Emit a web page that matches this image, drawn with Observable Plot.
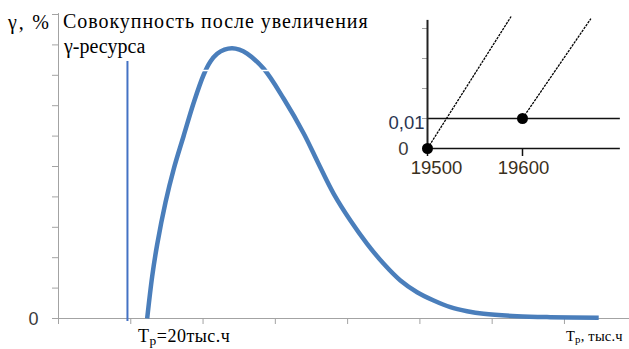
<!DOCTYPE html>
<html>
<head>
<meta charset="utf-8">
<script src="https://cdn.jsdelivr.net/npm/d3@7"></script>
<script src="https://cdn.jsdelivr.net/npm/@observablehq/plot@0.6"></script>
<style>
  html, body { margin: 0; padding: 0; background: #fff; }
  #wrap { position: relative; width: 629px; height: 349px; overflow: hidden; }
  #wrap svg { position: absolute; }
  .lbl { position: absolute; color: #000; white-space: nowrap; line-height: 1; }
  .lbl sub { font-size: 0.75em; vertical-align: -0.2em; line-height: 0; }
</style>
</head>
<body>
<div id="wrap"></div>
<script>
// ---- main chart data (x: thousand hours, y: %) ----
const xTicks = [15, 20, 25, 30, 35, 40, 45, 50];
const yTicks = [0, 1, 2, 3, 4, 5, 6, 7, 8, 9, 10];
const yTickLabels = ["0"];
const curveX = [21.134, 21.480, 21.826, 22.400, 22.974, 23.665, 24.357, 25.048, 25.512, 25.975, 26.48, 27.006, 27.51, 28.05, 29.198, 30.581, 31.964, 32.98, 34.039, 35.194, 36.349, 37.497, 38.651, 39.806, 40.955, 42.109, 43.264, 44.412, 46.72, 49.02, 52.37];
const curveY = [0, 1.382, 2.434, 3.816, 4.924, 6.020, 7.105, 8.026, 8.454, 8.707, 8.845, 8.891, 8.845, 8.71, 8.214, 7.227, 6.086, 5.099, 4.102, 3.224, 2.457, 1.799, 1.25, 0.865, 0.592, 0.372, 0.240, 0.155, 0.076, 0.043, 0.023];
const resourceX = [19.77];
const resourceY = [-0.1, 8.45];
const gapY = [8.16];
const gapX = [22.5, 31];

// ---- inset data ----
const insetXTicks = [19500, 19600];
const insetYTicks = [0.01, 0.02, 0.03, 0.04];
const insetLevels = [0, 0.01];
const insetPointX = [19500, 19600];
const insetPointY = [0, 0.01];
const insetLineEndX = [19588, 19672];
const insetLineEndY = [0.044, 0.0433];
const insetYLabels = ["0", "0,01"];
const insetXLabels = ["19500", "19600"];

const curve = curveX.map((x, i) => ({x, y: curveY[i]}));
const gray = "#a3a3a3";
const sans = "'Liberation Sans', Arial, sans-serif";
const serif = "'Liberation Serif', 'DejaVu Serif', 'Times New Roman', serif";

const main = Plot.plot({
  width: 629, height: 349,
  marginLeft: 58, marginRight: 0, marginTop: 14, marginBottom: 31,
  x: {domain: [15, 54.5]},
  y: {domain: [0, 10]},
  style: {background: "transparent"},
  marks: [
    Plot.ruleX([15], {y1: 0, y2: 10.03, stroke: gray}),
    Plot.ruleY([0], {x1: 15 - 6 / 14.46, x2: 54.5, stroke: gray}),
    Plot.axisX({ticks: xTicks, tickSize: 6, tickFormat: () => "", stroke: gray, label: null}),
    Plot.axisY({ticks: yTicks, tickSize: 6, tickFormat: () => "", stroke: gray, label: null}),
    Plot.text(yTickLabels, {x: 15, y: d => +d, text: d => d, textAnchor: "end", dx: -20, dy: 1,
      fontSize: 18, fontFamily: sans, fill: "#3a3a3a"}),
    Plot.line(curve, {x: "x", y: "y", stroke: "#4a7ebb", strokeWidth: 4.5, curve: "catmull-rom", strokeLinecap: "butt"}),
    Plot.ruleY(gapY, {x1: gapX[0], x2: gapX[1], stroke: "#fff", strokeWidth: 1.5}),
    Plot.ruleX(resourceX, {y1: resourceY[0], y2: resourceY[1], stroke: "#4472c4", strokeWidth: 2})
  ]
});
main.style.left = "0px"; main.style.top = "0px";

const inset = Plot.plot({
  width: 249, height: 185,
  marginLeft: 47, marginRight: 0, marginTop: 13, marginBottom: 37,
  x: {domain: [19500, 19500 + 202 / 0.95]},
  y: {domain: [0, 0.045]},
  style: {background: "transparent"},
  marks: [
    Plot.axisY({ticks: insetYTicks, tickSize: 5, tickFormat: () => "", stroke: gray, label: null}),
    Plot.ruleY(insetLevels, {x1: 19500, x2: 19703, stroke: "#111", strokeWidth: 1.6}),
    Plot.ruleX([insetPointX[0]], {y1: 0, y2: 0.0427, stroke: "#222", strokeWidth: 2}),
    Plot.axisX({ticks: insetXTicks, tickSize: 8, tickFormat: () => "", stroke: "#111", strokeWidth: 1.5, label: null}),
    Plot.link(insetPointX, {x1: d => d, y1: (d, i) => insetPointY[i], x2: (d, i) => insetLineEndX[i], y2: (d, i) => insetLineEndY[i],
      stroke: "#000", strokeWidth: 1.3, strokeDasharray: "2.5,1"}),
    Plot.dot(insetPointX, {x: d => d, y: (d, i) => insetPointY[i], r: 5.5, fill: "#000", stroke: null}),
    Plot.text([insetYLabels[0]], {x: 19500, y: insetLevels[0], text: d => d, textAnchor: "end", dx: -19, dy: 1,
      fontSize: 18.5, fontFamily: sans, fill: "#3a3a3a"}),
    Plot.text([insetYLabels[1]], {x: 19500, y: insetLevels[1], text: d => d, textAnchor: "end", dx: -3, dy: 5,
      fontSize: 18.5, fontFamily: sans, fill: "#2a3550"}),
    Plot.text([insetXLabels[0]], {x: insetXTicks[0], frameAnchor: "bottom", text: d => d, dx: 9, dy: 25,
      fontSize: 18.5, fontFamily: sans, fill: "#3a3020"}),
    Plot.text([insetXLabels[1]], {x: insetXTicks[1], frameAnchor: "bottom", text: d => d, dx: 1, dy: 25,
      fontSize: 18.5, fontFamily: sans, fill: "#3a3020"})
  ]
});
inset.style.left = "380px"; inset.style.top = "0px";

const wrap = document.getElementById("wrap");
wrap.appendChild(main);
wrap.appendChild(inset);

function addLabel(html, left, baseline, size, extra) {
  const d = document.createElement("div");
  d.className = "lbl";
  d.innerHTML = html;
  d.style.fontFamily = serif;
  d.style.left = left + "px";
  d.style.top = (baseline - 0.8375 * size) + "px";
  d.style.fontSize = size + "px";
  if (extra) Object.assign(d.style, extra);
  wrap.appendChild(d);
}
addLabel("γ, %", 8, 29, 20, {letterSpacing: "1.8px"});
addLabel("Совокупность после увеличения", 63, 28, 20, {letterSpacing: "0.95px"});
addLabel("γ-ресурса", 64, 53, 20, {letterSpacing: "0px"});
addLabel("T<sub>р</sub>=20тыс.ч", 138, 342, 18, {letterSpacing: "0.5px"});
addLabel("T<sub>р</sub>, тыс.ч", 566, 341, 14.5, {letterSpacing: "0.2px"});
</script>
</body>
</html>
